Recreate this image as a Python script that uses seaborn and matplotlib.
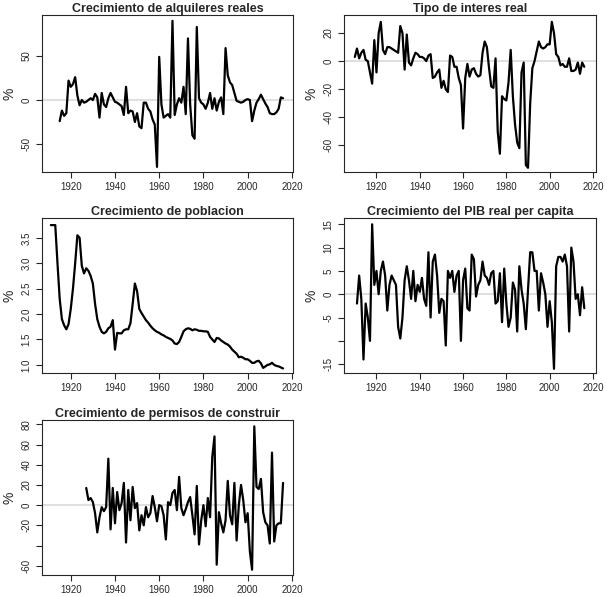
import numpy as np
import pandas as pd
import seaborn as sns
import matplotlib
matplotlib.use("Agg")
import matplotlib.pyplot as plt

sns.set_style("ticks")
plt.rcParams['font.family'] = ['Liberation Sans', 'DejaVu Sans']

rent_years = list(range(1915, 2017))
rent = [-24,-12,-18,-15,22,15,18,26,5,-6,0,-3,-2,0,2,0,7,3,-20,8,-5,-8,2,8,3,-2,-3,-5,-7,-17,15,-15,-12,-13,-25,-15,-30,-32,-3,-3,-10,-13,-22,-28,-76,49,-5,-20,-18,-16,-20,90,-17,-5,2,-3,15,-16,70,-5,-40,-44,83,2,-3,-5,-10,-3,8,-10,2,-12,-2,3,-16,59,28,20,17,8,-1,-2,-3,-2,0,1,0,-24,-12,-3,1,6,1,-4,-8,-15,-16,-16,-14,-10,3,2]

rate_years = list(range(1910, 2017))
rate = [3,9,2,6,8,1,0,-8,-16,15,-8,20,28,8,5,10,10,9,8,7,6,25,20,-6,19,-1,-3,2,6,5,3,3,2,0,4,5,-12,-11,-8,-6,-19,-14,-20,-22,4,3,-4,-4,-12,-17,-48,-12,-2,-11,-6,-5,-9,-11,-10,6,14,10,-5,-18,-19,2,-50,-66,-25,-27,-28,-15,8,-25,-45,-58,-62,-8,-1,-74,-76,-30,-5,0,7,14,10,9,10,12,12,28,20,5,3,-3,-2,-4,-4,2,-7,-7,-6,-1,-9,-1,-4]

pop_years = list(range(1911, 2017))
pop = [3.75,3.75,3.75,3.0,2.3,1.9,1.78,1.7,1.8,2.1,2.5,3.0,3.55,3.5,2.95,2.8,2.9,2.85,2.75,2.6,2.2,1.9,1.75,1.65,1.62,1.65,1.72,1.75,1.88,1.3,1.63,1.62,1.62,1.68,1.7,1.7,1.82,2.2,2.6,2.45,2.1,2.02,1.95,1.88,1.83,1.77,1.72,1.68,1.65,1.63,1.6,1.58,1.55,1.53,1.51,1.48,1.42,1.41,1.45,1.55,1.66,1.7,1.72,1.71,1.68,1.7,1.69,1.67,1.67,1.66,1.66,1.65,1.55,1.5,1.45,1.53,1.52,1.48,1.45,1.42,1.4,1.36,1.3,1.26,1.22,1.15,1.16,1.14,1.11,1.11,1.08,1.04,1.04,1.07,1.08,1.03,0.94,0.97,1.0,1.01,1.04,1.0,0.98,0.97,0.95,0.93]

gdp_years = list(range(1911, 2017))
gdp = [-2,4,-1,-14,-2,-5,-10,15,2,5,0,5,7,4,-3.5,2,4,3,2,-7,-9.5,-5,3,6,3,-1,5,-1.5,2,0.5,3.5,-1,-2.5,9,-5,7,8.5,4,-4,-1,-1.5,-11,5,3.5,5,0.5,4,5,-10,3,5.5,-3,-3.5,8.5,7.5,-0.5,2,3,7,4,3.5,2,4.5,5,-2,-1.5,4.5,-6,5.5,-2,-7,-5,2.5,1,-8,6,1,-2,-7.5,1,9,9,5,5,-3.5,4.5,2.5,0,-7,-1.5,-6,-16,6,8,8,7,8.5,6,-8,10,7,-1,0,-4.5,1.5,-3]

perm_years = list(range(1927, 2017))
perm = [17,5,7,3,-8,-27,-12,-2,-6,-2,46,-24,17,-18,13,-5,2,22,-37,15,-15,18,-3,2,-25,-10,-20,-2,-12,-8,9,-2,-16,0,-1,-10,-34,3,0,12,15,-5,28,-3,-10,-4,3,8,-10,-29,19,-39,-15,0,-21,7,-12,48,68,-59,-7,-18,-27,-15,24,-10,-19,22,-35,0,20,5,-17,-8,-46,-64,78,18,16,26,-7,-17,-20,-38,52,-36,-20,-18,-18,22]

titles = ["Crecimiento de alquileres reales", "Tipo de interes real",
          "Crecimiento de poblacion", "Crecimiento del PIB real per capita",
          "Crecimiento de permisos de construir"]

W, H = 607, 597
fig = plt.figure(figsize=(W/100, H/100), dpi=100)

panels = [
    (rent_years, rent, (42, 15, 293, 172), (1907, 2020.5), (-81.8, 96.6), [-50, 0, 50], None, False),
    (rate_years, rate, (344, 15, 596, 172), (1905, 2021.4), (-79, 32.9), [-60, -40, -20, 0, 20], None, False),
    (pop_years, pop, (42, 218, 293, 373), (1907, 2020.5), (0.84, 3.89), [1.0, 1.5, 2.0, 2.5, 3.0, 3.5], None, True),
    (gdp_years, gdp, (344, 218, 596, 373), (1905, 2021.4), (-16.9, 16.35), [-15, -10, -5, 0, 5, 10, 15], -10, False),
    (perm_years, perm, (42, 420, 293, 575), (1907, 2020.5), (-69.2, 84.3), [-60, -40, -20, 0, 20, 40, 60, 80], -40, False),
]

for (yrs, vals, box, xl, yl, yt, skip, decimals), title in zip(panels, titles):
    l, t, r, b = box
    ax = fig.add_axes([l/W, 1 - b/H, (r-l)/W, (b-t)/H])
    df = pd.DataFrame({"year": yrs, "val": vals})
    if not decimals:
        ax.axhline(0, color="#d9d9d9", lw=1.2, zorder=0)
    sns.lineplot(data=df, x="year", y="val", color="black", lw=1.6, ax=ax)
    ax.set_xlim(*xl)
    ax.set_ylim(*yl)
    ax.set_xticks([1920, 1940, 1960, 1980, 2000, 2020])
    ax.set_yticks(yt)
    labs = []
    for v in yt:
        if skip is not None and v == skip:
            labs.append("")
        elif decimals:
            labs.append(f"{v:.1f}")
        else:
            labs.append(f"{v:g}")
    ax.set_yticklabels(labs, rotation=90, va="center")
    ax.tick_params(labelsize=7, length=4, width=0.8, direction="out")
    ax.set_xlabel("")
    ax.set_ylabel("%", fontsize=10)
    ax.set_title(title, fontsize=9, fontweight="bold", pad=1)
    for s in ax.spines.values():
        s.set_visible(True)
        s.set_linewidth(0.8)

fig.savefig("out.png", dpi=100, facecolor="white")
